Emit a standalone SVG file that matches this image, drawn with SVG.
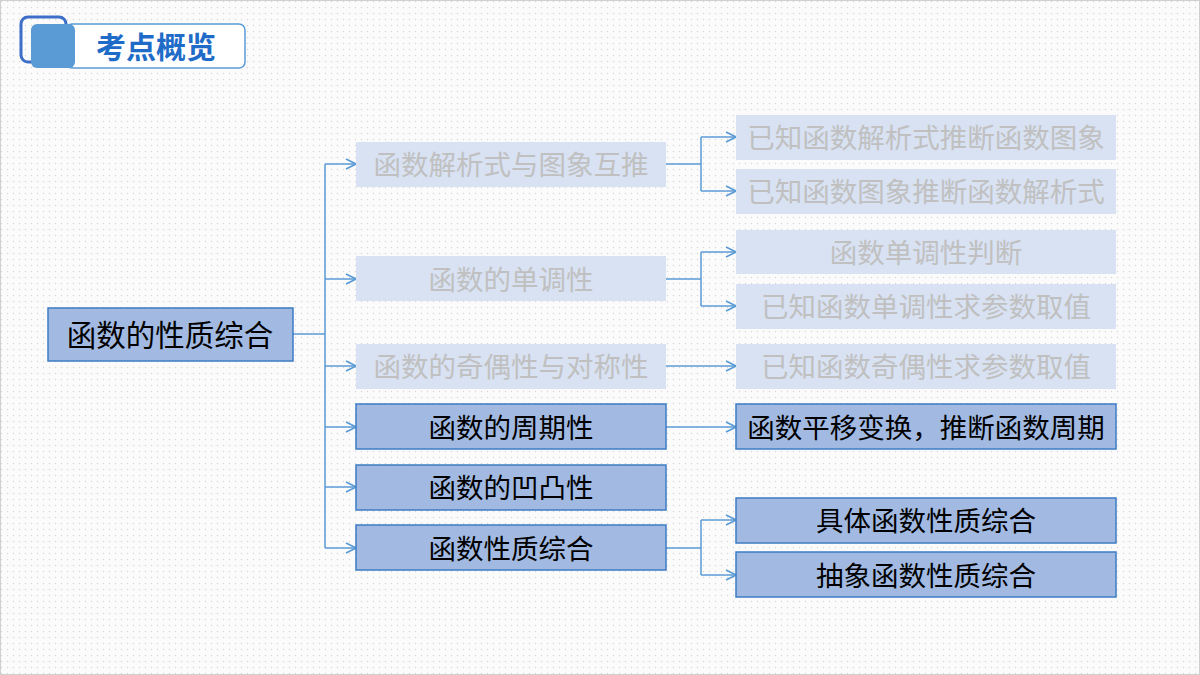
<svg xmlns="http://www.w3.org/2000/svg" width="1200" height="675" viewBox="0 0 1200 675">
<defs>
<pattern id="dots" width="6" height="6" patternUnits="userSpaceOnUse">
<rect width="6" height="6" fill="#fbfbfb"/>
<circle cx="1.5" cy="1.5" r="0.7" fill="#d6d6d6"/>
</pattern>
<marker id="arr" viewBox="0 0 12 12" refX="11" refY="6" markerWidth="12" markerHeight="12" markerUnits="userSpaceOnUse" orient="auto">
<path d="M1,1 L11,6 L1,11" fill="none" stroke="#5B9BD5" stroke-width="1.6"/>
</marker>
<style>
.t{font-family:"Noto Sans CJK SC","Noto Sans",sans-serif;font-size:27.5px;text-anchor:middle;dominant-baseline:central}
.on rect{fill:#A2BAE2;stroke:#3D7CC4;stroke-width:1.5}
.on text{fill:#000}
.off rect{fill:#D8E2F3;stroke:none}
.off text{fill:#C0C0C0}
.c{fill:none;stroke:#5B9BD5;stroke-width:1.5}
.ca{fill:none;stroke:#5B9BD5;stroke-width:1.5;marker-end:url(#arr)}
</style>
</defs>
<rect width="1200" height="675" fill="url(#dots)"/>
<rect x="0.5" y="0.5" width="1199" height="674" fill="none" stroke="#d0d0d0"/>
<g id="title">
<rect x="21" y="17" width="45" height="45" rx="7" fill="none" stroke="#3D6FC8" stroke-width="3"/>
<rect x="66" y="24" width="179" height="44" rx="6" fill="#fff" stroke="#5B9BD5" stroke-width="1.5"/>
<rect x="31" y="24" width="44" height="44" rx="6" fill="#5B9BD5"/>
<text x="156" y="45" style="font-family:'Noto Sans CJK SC',sans-serif;font-size:30px;font-weight:bold;fill:#1F6CC8;text-anchor:middle;dominant-baseline:central">考点概览</text>
</g>
<g id="connectors">
<path class="c" d="M293,334 H325 M325,164 V548"/>
<path class="ca" d="M325,164 H356"/>
<path class="ca" d="M325,279 H356"/>
<path class="ca" d="M325,366 H356"/>
<path class="ca" d="M325,427 H356"/>
<path class="ca" d="M325,487 H356"/>
<path class="ca" d="M325,548 H356"/>
<path class="c" d="M666,164 H701 M701,137 V191"/>
<path class="ca" d="M701,137 H736"/>
<path class="ca" d="M701,191 H736"/>
<path class="c" d="M666,279 H701 M701,252 V306"/>
<path class="ca" d="M701,252 H736"/>
<path class="ca" d="M701,306 H736"/>
<path class="ca" d="M666,366 H736"/>
<path class="ca" d="M666,427 H736"/>
<path class="c" d="M666,548 H701 M701,520 V575"/>
<path class="ca" d="M701,520 H736"/>
<path class="ca" d="M701,575 H736"/>
</g>
<g id="root" class="on"><rect x="48" y="308" width="245" height="53"/><text class="t" x="170" y="333" style="font-size:29.5px">函数的性质综合</text></g>
<g id="n1" class="off"><rect x="356" y="142" width="310" height="45"/><text class="t" x="511" y="163">函数解析式与图象互推</text></g>
<g id="n2" class="off"><rect x="356" y="256" width="310" height="45"/><text class="t" x="511" y="278">函数的单调性</text></g>
<g id="n3" class="off"><rect x="356" y="344" width="310" height="45"/><text class="t" x="511" y="365">函数的奇偶性与对称性</text></g>
<g id="n4" class="on"><rect x="356" y="404" width="310" height="45"/><text class="t" x="511" y="426">函数的周期性</text></g>
<g id="n5" class="on"><rect x="356" y="465" width="310" height="45"/><text class="t" x="511" y="486">函数的凹凸性</text></g>
<g id="n6" class="on"><rect x="356" y="525" width="310" height="45"/><text class="t" x="511" y="547">函数性质综合</text></g>
<g id="m1" class="off"><rect x="736" y="115" width="380" height="45"/><text class="t" x="926" y="136">已知函数解析式推断函数图象</text></g>
<g id="m2" class="off"><rect x="736" y="169" width="380" height="45"/><text class="t" x="926" y="190">已知函数图象推断函数解析式</text></g>
<g id="m3" class="off"><rect x="736" y="230" width="380" height="44"/><text class="t" x="926" y="251">函数单调性判断</text></g>
<g id="m4" class="off"><rect x="736" y="284" width="380" height="45"/><text class="t" x="926" y="305">已知函数单调性求参数取值</text></g>
<g id="m5" class="off"><rect x="736" y="344" width="380" height="45"/><text class="t" x="926" y="365">已知函数奇偶性求参数取值</text></g>
<g id="m6" class="on"><rect x="736" y="404" width="380" height="45"/><text class="t" x="926" y="426">函数平移变换，推断函数周期</text></g>
<g id="m7" class="on"><rect x="736" y="498" width="380" height="45"/><text class="t" x="926" y="519">具体函数性质综合</text></g>
<g id="m8" class="on"><rect x="736" y="552" width="380" height="45"/><text class="t" x="926" y="574">抽象函数性质综合</text></g>
</svg>
